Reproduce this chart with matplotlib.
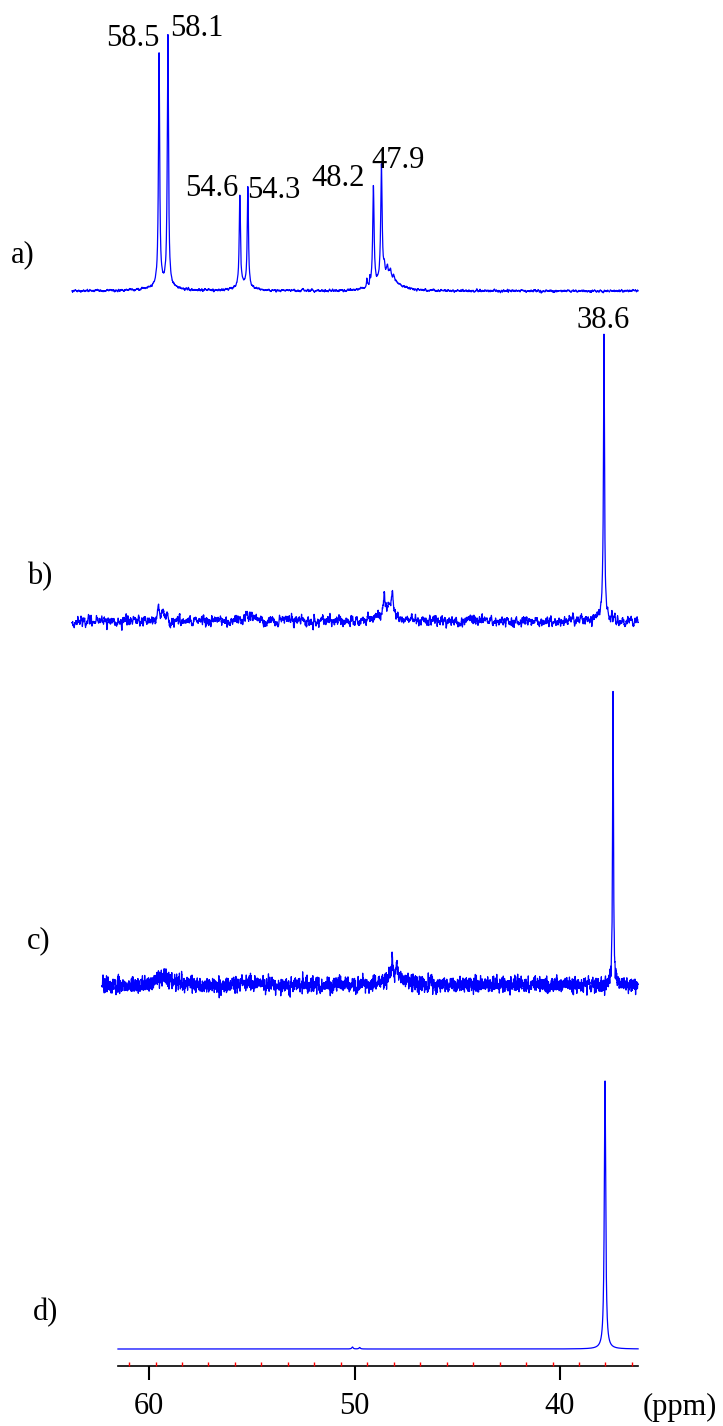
import numpy as np
import matplotlib
matplotlib.use('Agg')
import matplotlib.pyplot as plt

plt.rcParams['font.family'] = ['Liberation Serif', 'DejaVu Serif']

# ppm ranges of each trace (left, right)
panel_names = ['a)', 'b)', 'c)', 'd)']
panel_start = [63.75, 63.75, 62.29, 61.51]
panel_end = [36.20, 36.20, 36.20, 36.20]
noise_level = [0.6, 2.6, 3.8, 0.0]

# peak lists: position (ppm), height, half width (ppm)
peaks_a_pos = [59.51, 59.08, 55.58, 55.19, 49.08, 48.69, 49.40, 49.25,
               48.45, 48.2, 59.3, 55.4, 48.55, 48.4, 48.25, 48.1]
peaks_a_h = [232, 248, 91, 100, 100, 116, 10, 8, 10, 8, 6, 5, 8, 7, 6, 4]
peaks_a_w = [0.035, 0.035, 0.035, 0.035, 0.04, 0.04, 0.02, 0.02,
             0.3, 0.5, 0.6, 0.4, 0.03, 0.03, 0.03, 0.03]

peaks_b_pos = [37.86, 59.55, 59.3, 55.25, 55.0, 48.55, 48.15, 48.35, 38.0]
peaks_b_h = [284, 13, 12, 9, 6, 22, 18, 14, 6]
peaks_b_w = [0.03, 0.06, 0.06, 0.06, 0.1, 0.03, 0.03, 0.35, 0.15]

peaks_c_pos = [37.42, 48.17, 47.95, 48.0, 59.2, 59.5, 55.2]
peaks_c_h = [297, 22, 14, 10, 5, 5, 3]
peaks_c_w = [0.025, 0.03, 0.03, 0.4, 0.3, 0.2, 0.3]

peaks_d_pos = [37.81, 50.1, 49.75]
peaks_d_h = [269, 2, 1.5]
peaks_d_w = [0.04, 0.04, 0.04]

peak_lists = [(peaks_a_pos, peaks_a_h, peaks_a_w),
              (peaks_b_pos, peaks_b_h, peaks_b_w),
              (peaks_c_pos, peaks_c_h, peaks_c_w),
              (peaks_d_pos, peaks_d_h, peaks_d_w)]

# peak labels
label_text = ['58.5', '58.1', '54.6', '54.3', '48.2', '47.9', '38.6']
label_ppm = [60.78, 57.69, 56.96, 53.93, 50.81, 47.90, 37.91]
label_y = [39, 28, 188, 190, 178, 160, 321]

major_ticks = [60, 50, 40]
minor_ticks = np.linspace(60.97, 36.50, 20)

baselines = [291, 621, 985, 1349]
name_x = [23, 40, 39, 46]
name_y = [255, 577, 941, 1313]

def ppm(px):
    return 60 - (px - 149) / 20.55

fig = plt.figure(figsize=(7.23, 14.26), dpi=100)
ax = fig.add_axes([0, 0, 1, 1])
ax.set_xlim(ppm(0), ppm(723))
ax.set_ylim(1426, 0)
ax.axis('off')

rng = np.random.default_rng(3)
for i in range(4):
    x = np.linspace(panel_start[i], panel_end[i], 4000)
    pos, h, w = peak_lists[i]
    y = np.zeros_like(x)
    for p0, h0, w0 in zip(pos, h, w):
        y += h0 * w0 ** 2 / ((x - p0) ** 2 + w0 ** 2)
    if noise_level[i] > 0:
        n = rng.normal(0, 1, x.size)
        k = 6 if i < 2 else 2
        n = np.convolve(n, np.ones(k) / k, mode='same')
        n = n / n.std() * noise_level[i]
        y += n
    ax.plot(x, baselines[i] - y, color='blue', lw=0.9)
    ax.text(ppm(name_x[i]), name_y[i], panel_names[i], fontsize=22,
            ha='center', va='center')

for t, p, yy in zip(label_text, label_ppm, label_y):
    ax.text(p, yy, t, fontsize=22, ha='center', va='center')

# ppm axis
axis_y = 1366
ax.plot([ppm(118), ppm(638)], [axis_y, axis_y], color='black', lw=1.2)
ax.vlines(minor_ticks, axis_y - 4, axis_y, color='red', lw=1.0)
ax.vlines(major_ticks, axis_y, axis_y + 14, color='black', lw=1.5)
for t in major_ticks:
    ax.text(t, 1407, str(t), fontsize=22, ha='center', va='center')
ax.text(ppm(680), 1407, '(ppm)', fontsize=22, ha='center', va='center')

plt.savefig('out.png', dpi=100)
